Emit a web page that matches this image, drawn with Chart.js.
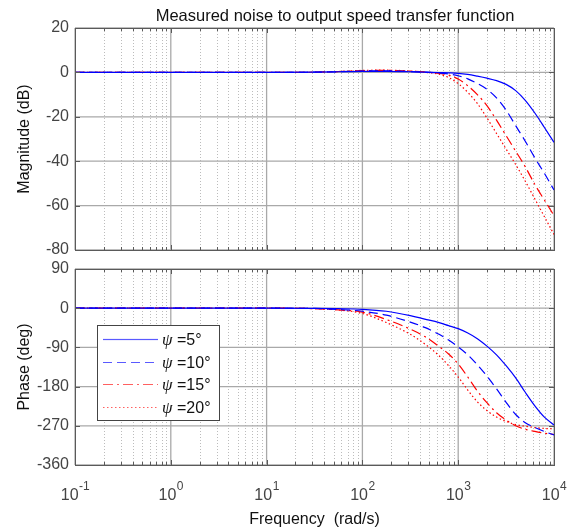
<!DOCTYPE html>
<html><head><meta charset="utf-8">
<script src="https://cdn.jsdelivr.net/npm/chart.js@4.4.0/dist/chart.umd.min.js"></script>
<style>
html,body{margin:0;padding:0;background:#fff;}
#wrap{position:relative;width:583px;height:530px;background:#fff;}
canvas{position:absolute;left:0;top:0;}
</style></head><body>
<div id="wrap"><canvas id="c2" width="583" height="530"></canvas><canvas id="c1" width="583" height="530"></canvas></div>
<script>
// ---- data ----
const freq = [0.1, 1, 10, 31.6, 56.2, 100, 178, 316, 447, 631, 794, 1000, 1259, 1585, 1995, 2512, 3162, 3981, 5012, 6310, 7943, 10000];
const seriesLabels = ['ψ =5°', 'ψ =10°', 'ψ =15°', 'ψ =20°'];
const mag5  = [0, 0, 0, 0.1, 0.3, 0.5, 0.5, 0.3, 0.1, -0.1, -0.2, -0.4, -0.9, -1.7, -2.6, -3.7, -5.4, -8.2, -12.6, -18.3, -24.8, -31.5];
const mag10 = [0, 0, 0, 0.1, 0.3, 0.6, 0.7, 0.4, 0.1, -0.2, -0.7, -1.5, -2.9, -5.0, -7.6, -11.5, -17, -24, -31, -38.5, -45.5, -53];
const mag15 = [0, 0, 0, 0.1, 0.4, 0.8, 0.9, 0.6, 0.2, -0.4, -1.2, -3, -6, -10, -15, -21.5, -28.5, -35.5, -42.5, -50.5, -57.5, -64.5];
const mag20 = [0, 0, 0, 0.1, 0.4, 0.9, 1.0, 0.6, 0.0, -0.8, -2.3, -5, -9, -14, -20.5, -27.5, -34.5, -41.5, -49, -57, -65, -73];
const ph5  = [0, 0, 0, -0.3, -1, -2.5, -7, -17, -25, -33, -40, -47, -57, -70, -87, -107, -132, -160, -193, -224, -250, -268];
const ph10 = [0, 0, 0, -0.5, -3, -7, -16, -32, -44, -60, -73, -89, -107, -130, -156, -185, -216, -244, -263, -274, -283, -291];
const ph15 = [0, 0, 0, -1, -4, -9, -26, -48, -65, -88, -105, -128, -158, -190, -217, -240, -257, -270, -278, -283, -287, -290];
const ph20 = [0, 0, 0, -1, -4, -12, -33, -60, -82, -109, -132, -158, -188, -215, -235, -250, -260, -267, -271, -274, -276, -277];
const magTicks = [20, 0, -20, -40, -60, -80];
const phaseTicks = [90, 0, -90, -180, -270, -360];
const decadeExponents = ['-1', '0', '1', '2', '3', '4'];

const titleText = 'Measured noise to output speed transfer function';
const FONT = "'Liberation Sans', Arial, Helvetica, sans-serif";
const styles = [
  {color: '#0000ff', legend: '#5a5aff', dash: []},
  {color: '#0000ff', legend: '#5a5aff', dash: [9, 5]},
  {color: '#ff0000', legend: '#ff6060', dash: [10, 4, 2, 4]},
  {color: '#ff0000', legend: '#ff6060', dash: [1.5, 2.5]}
];

function pts(vals) { return freq.map((f, i) => ({x: f, y: vals[i]})); }
function makeSets(arrs) {
  return arrs.map((a, i) => ({
    label: seriesLabels[i], data: pts(a),
    borderColor: styles[i].color, borderDash: styles[i].dash,
    borderWidth: 1.2, pointRadius: 0, fill: false,
    cubicInterpolationMode: 'monotone'
  }));
}

function strokeLine(ctx, x0, y0, x1, y1) { ctx.beginPath(); ctx.moveTo(x0, y0); ctx.lineTo(x1, y1); ctx.stroke(); }

const gridPlugin = {
  id: 'matGrid',
  beforeDatasetsDraw(chart) {
    const {ctx, chartArea: a} = chart;
    const x = chart.scales.x, y = chart.scales.y;
    ctx.save();
    ctx.lineWidth = 1;
    ctx.strokeStyle = '#bcbcbc';
    ctx.setLineDash([1, 2]);
    for (let d = -1; d < 4; d++) {
      for (let k = 2; k <= 9; k++) {
        const px = Math.round(x.getPixelForValue(k * Math.pow(10, d))) + 0.5;
        strokeLine(ctx, px, a.top, px, a.bottom);
      }
    }
    ctx.setLineDash([]);
    ctx.strokeStyle = '#a9a9a9';
    ctx.lineWidth = 1.3;
    for (let d = -1; d <= 4; d++) {
      const px = x.getPixelForValue(Math.pow(10, d));
      strokeLine(ctx, px, a.top, px, a.bottom);
    }
    y.ticks.forEach(t => {
      const py = y.getPixelForValue(t.value);
      strokeLine(ctx, a.left, py, a.right, py);
    });
    ctx.restore();
  },
  afterDatasetsDraw(chart) {
    const {ctx, chartArea: a} = chart;
    const x = chart.scales.x, y = chart.scales.y;
    ctx.save();
    ctx.strokeStyle = '#5a5a5a';
    ctx.lineWidth = 1;
    for (let d = -1; d <= 4; d++) {
      for (let k = 1; k <= 9; k++) {
        if (d === 4 && k > 1) break;
        const px = Math.round(x.getPixelForValue(k * Math.pow(10, d))) + 0.5;
        const L = k === 1 ? 5 : 3;
        strokeLine(ctx, px, a.top, px, a.top + L);
        strokeLine(ctx, px, a.bottom, px, a.bottom - L);
      }
    }
    y.ticks.forEach(t => {
      const py = Math.round(y.getPixelForValue(t.value)) + 0.5;
      strokeLine(ctx, a.left, py, a.left + 5, py);
      strokeLine(ctx, a.right, py, a.right - 5, py);
    });
    ctx.strokeRect(Math.round(a.left) + 0.5, Math.round(a.top) + 0.5, Math.round(a.right - a.left), Math.round(a.bottom - a.top));
    ctx.restore();
  }
};

const titlePlugin = {
  id: 'matTitle',
  afterDraw(chart) {
    const ctx = chart.ctx;
    ctx.save();
    ctx.font = '16.5px ' + FONT;
    ctx.fillStyle = '#111';
    ctx.textAlign = 'center';
    ctx.textBaseline = 'alphabetic';
    ctx.fillText(titleText, 335, 21);
    ctx.restore();
  }
};

const xLabelPlugin = {
  id: 'xDecades',
  afterDraw(chart) {
    const ctx = chart.ctx, x = chart.scales.x;
    ctx.save();
    ctx.fillStyle = '#444';
    ctx.textBaseline = 'alphabetic';
    ctx.textAlign = 'left';
    decadeExponents.forEach(e => {
      const xc = x.getPixelForValue(Math.pow(10, Number(e)));
      ctx.font = '16px ' + FONT;
      const w1 = ctx.measureText('10').width;
      ctx.font = '12px ' + FONT;
      const w2 = ctx.measureText(e).width;
      const x0 = xc - (w1 + w2) / 2;
      ctx.font = '16px ' + FONT;
      ctx.fillText('10', x0, 500);
      ctx.font = '12px ' + FONT;
      ctx.fillText(e, x0 + w1 + 0.5, 490);
    });
    ctx.restore();
  }
};

const legendPlugin = {
  id: 'matLegend',
  afterDraw(chart) {
    const ctx = chart.ctx;
    ctx.save();
    ctx.setLineDash([]);
    ctx.fillStyle = '#fff';
    ctx.fillRect(97, 325, 122, 95);
    ctx.strokeStyle = '#444';
    ctx.lineWidth = 1;
    ctx.strokeRect(97.5, 325.5, 122, 95);
    chart.data.datasets.forEach((ds, i) => {
      const yy = Math.round(339 + i * 22.7);
      const st = styles[i];
      if (st.dash.length === 0) {
        ctx.fillStyle = st.legend;
        ctx.fillRect(103, yy - 0.1, 55, 1.2);
      } else {
        ctx.beginPath();
        ctx.strokeStyle = st.legend;
        ctx.lineWidth = 1.2;
        ctx.setLineDash(st.dash);
        ctx.moveTo(103, yy + 0.5);
        ctx.lineTo(158, yy + 0.5);
        ctx.stroke();
        ctx.setLineDash([]);
      }
      ctx.fillStyle = '#111';
      ctx.textBaseline = 'middle';
      ctx.textAlign = 'left';
      ctx.font = "italic 17px 'Liberation Serif', 'Times New Roman', serif";
      const g = ds.label.charAt(0);
      ctx.fillText(g, 162, yy + 1.5);
      const gw = ctx.measureText(g).width;
      ctx.font = '16px ' + FONT;
      ctx.fillText(ds.label.slice(1), 162 + gw, yy + 1.5);
    });
    ctx.restore();
  }
};

function yAxis(min, max, step, tickList, title) {
  return {
    type: 'linear', min: min, max: max,
    afterBuildTicks: s => { s.ticks = tickList.map(v => ({value: v})); },
    afterFit: s => { s.width = 75; },
    ticks: {stepSize: step, color: '#444', font: {size: 16, family: FONT}, padding: 6},
    grid: {display: false, drawTicks: false},
    border: {display: false},
    title: {display: true, text: title, color: '#111', font: {size: 16, family: FONT}, padding: {top: 15, bottom: 0}}
  };
}

new Chart(document.getElementById('c1'), {
  type: 'line',
  data: {datasets: makeSets([mag5, mag10, mag15, mag20])},
  options: {
    responsive: false, animation: false,
    layout: {padding: {top: 28, bottom: 280, left: 0, right: 29}},
    plugins: {legend: {display: false}, title: {display: false}, tooltip: {enabled: false}},
    scales: {
      x: {type: 'logarithmic', min: 0.1, max: 10000, display: false},
      y: yAxis(-80, 20, 20, magTicks, 'Magnitude (dB)')
    }
  },
  plugins: [gridPlugin, titlePlugin]
});

new Chart(document.getElementById('c2'), {
  type: 'line',
  data: {datasets: makeSets([ph5, ph10, ph15, ph20])},
  options: {
    responsive: false, animation: false,
    layout: {padding: {top: 269, bottom: 0, left: 0, right: 29}},
    plugins: {legend: {display: false}, title: {display: false}, tooltip: {enabled: false}},
    scales: {
      x: {
        type: 'logarithmic', min: 0.1, max: 10000,
        afterFit: s => { s.height = 65; },
        ticks: {display: false},
        grid: {display: false, drawTicks: false},
        border: {display: false},
        title: {display: true, text: 'Frequency  (rad/s)', color: '#111', font: {size: 16, family: FONT}, padding: {top: 0, bottom: 1}}
      },
      y: yAxis(-360, 90, 90, phaseTicks, 'Phase (deg)')
    }
  },
  plugins: [gridPlugin, xLabelPlugin, legendPlugin]
});
</script>
</body></html>
